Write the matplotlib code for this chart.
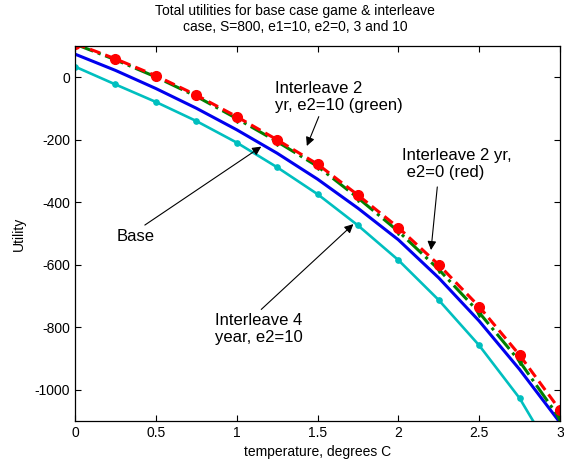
import numpy as np
import matplotlib
matplotlib.use("Agg")
import matplotlib.pyplot as plt

plt.rcParams['font.family'] = ['Liberation Sans', 'DejaVu Sans']
plt.rcParams['axes.unicode_minus'] = False

# temperature grid (degrees C)
temps = [0.0, 0.25, 0.5, 0.75, 1.0, 1.25, 1.5, 1.75, 2.0, 2.25, 2.5, 2.75, 3.0]

# total utilities
base = [74, 22, -36, -99, -168, -243, -326, -419, -520, -642, -780, -935, -1105]
inter4_e10 = [34, -23, -79, -140, -209, -288, -374, -474, -585, -713, -858, -1027, -1245]
inter2_e10 = [106, 56, 1, -61, -132, -206, -285, -386, -493, -615, -753, -909, -1093]
inter2_e0 = [108, 59, 5, -57, -126, -200, -278, -377, -481, -600, -734, -889, -1065]

xticks = [0, 0.5, 1, 1.5, 2, 2.5, 3]
xticklabels = ["0", "0.5", "1", "1.5", "2", "2.5", "3"]
yticks = [-1000, -800, -600, -400, -200, 0]

fig = plt.figure(figsize=(5.64, 4.63), dpi=100)
ax = fig.add_axes([75/564, 1 - 421/463, 485/564, 375/463])

ax.plot(temps, base, color='#0000ee', lw=2.2)
ax.plot(temps, inter4_e10, color='#00bfbf', lw=1.9, marker='o', ms=3.8)
ax.plot(temps, inter2_e10, color='#008000', lw=2.2, ls='-.', marker='v', ms=5.5)
ax.plot(temps, inter2_e0, color='#ff0000', lw=2.2, dashes=(3.5, 1.8), marker='o', ms=7)

ax.set_xlim(0, 3)
ax.set_ylim(-1100, 100)
ax.set_xticks(xticks)
ax.set_xticklabels(xticklabels)
ax.set_yticks(yticks)
ax.tick_params(direction='in', top=True, right=True, length=4, labelsize=10, width=0.8)
for s in ax.spines.values():
    s.set_linewidth(0.9)

ax.set_xlabel("temperature, degrees C", fontsize=10, labelpad=4)
ax.set_ylabel("Utility", fontsize=10, labelpad=6)

fig.text(295/564, 1 - 4/463,
         "Total utilities for base case game & interleave\ncase, S=800, e1=10, e2=0, 3 and 10",
         ha='center', va='top', fontsize=10, linespacing=1.15)

# annotations
arrow = dict(arrowstyle='-|>', color='k', lw=0.8, mutation_scale=13, shrinkA=0, shrinkB=0)
ax.text(1.235, -12, "Interleave 2\nyr, e2=10 (green)", fontsize=12, va='top', ha='left')
ax.annotate('', xy=(1.434, -220), xytext=(1.508, -126), arrowprops=arrow)

ax.text(2.025, -226, "Interleave 2 yr,\n e2=0 (red)", fontsize=12, va='top', ha='left')
ax.annotate('', xy=(2.202, -553), xytext=(2.241, -351), arrowprops=arrow)

ax.text(0.257, -511, "Base", fontsize=12, va='center', ha='left')
ax.annotate('', xy=(1.152, -222), xytext=(0.432, -473), arrowprops=arrow)

ax.text(0.864, -754, "Interleave 4\nyear, e2=10", fontsize=12, va='top', ha='left')
ax.annotate('', xy=(1.722, -470), xytext=(1.152, -743), arrowprops=arrow)

fig.savefig("out.png", dpi=100)
